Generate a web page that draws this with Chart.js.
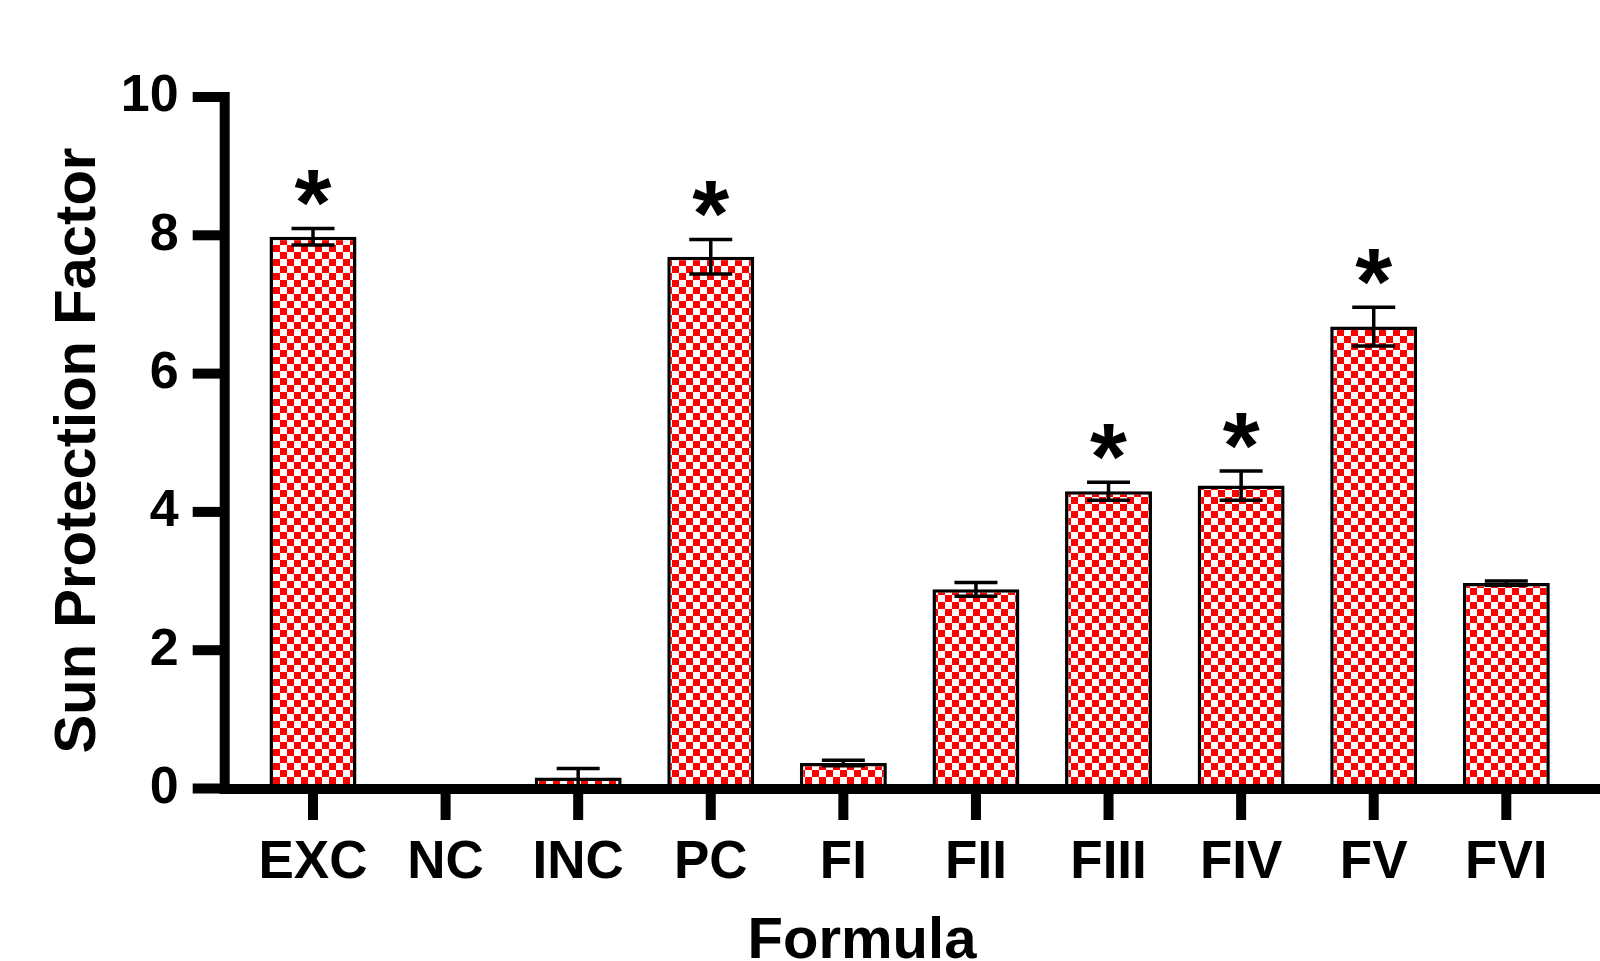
<!DOCTYPE html>
<html>
<head>
<meta charset="utf-8">
<script src="https://cdn.jsdelivr.net/npm/chart.js@4.4.1/dist/chart.umd.min.js"></script>
<style>
    html, body { margin: 0; padding: 0; background: #ffffff; }
    #wrap { width: 1600px; height: 961px; }
</style>
</head>
<body>
<div id="wrap"><canvas id="spf-chart"></canvas></div>
<script>
const labels = ["EXC", "NC", "INC", "PC", "FI", "FII", "FIII", "FIV", "FV", "FVI"];
const spfMean = [7.98, 0, 0.16, 7.69, 0.37, 2.88, 4.3, 4.38, 6.68, 2.97];
const spfSem = [0.12, 0, 0.13, 0.25, 0.04, 0.1, 0.13, 0.21, 0.28, 0.03];
const stars = ["*", "", "", "*", "", "", "*", "*", "*", ""];
const yTicks = [0, 2, 4, 6, 8, 10];
const xTitle = "Formula";
const yTitle = "Sun Protection Factor";

const fontFamily = "'Liberation Sans', Arial, sans-serif";
const ctx = document.getElementById("spf-chart").getContext("2d");

// red / white checkerboard fill like the original figure
function checker() {
    const c = document.createElement("canvas");
    c.width = 14;
    c.height = 14;
    const g = c.getContext("2d");
    g.fillStyle = "#ffffff";
    g.fillRect(0, 0, 14, 14);
    g.fillStyle = "#ff0000";
    g.fillRect(0, 0, 7, 7);
    g.fillRect(7, 7, 7, 7);
    return ctx.createPattern(c, "repeat");
}

const errorBars = {
    id: "errorBars",
    afterDatasetsDraw(chart) {
        const c = chart.ctx;
        const y = chart.scales.y;
        const meta = chart.getDatasetMeta(0);
        c.save();
        c.strokeStyle = "#000";
        c.lineWidth = 3.5;
        meta.data.forEach(function (bar, i) {
            if (!spfSem[i]) return;
            const top = y.getPixelForValue(spfMean[i] + spfSem[i]);
            const bot = y.getPixelForValue(Math.max(spfMean[i] - spfSem[i], 0));
            c.beginPath();
            c.moveTo(bar.x, top);
            c.lineTo(bar.x, bot);
            c.moveTo(bar.x - 21.5, top);
            c.lineTo(bar.x + 21.5, top);
            c.moveTo(bar.x - 21.5, bot);
            c.lineTo(bar.x + 21.5, bot);
            c.stroke();
        });
        c.fillStyle = "#000";
        c.font = "bold 95px " + fontFamily;
        c.textAlign = "center";
        c.textBaseline = "alphabetic";
        meta.data.forEach(function (bar, i) {
            if (!stars[i]) return;
            const top = y.getPixelForValue(spfMean[i] + spfSem[i]);
            c.fillText(stars[i], bar.x, top + 7);
        });
        c.restore();
    },
};

// GraphPad style axes: thick lines, y axis set off from the first bar
const axisLines = {
    id: "axisLines",
    afterDraw(chart) {
        const c = chart.ctx;
        const x = chart.scales.x;
        const y = chart.scales.y;
        const y0 = y.getPixelForValue(0) + 0.5;
        const yTop = y.getPixelForValue(10);
        const axisX = chart.chartArea.left - 22;
        c.save();
        c.fillStyle = "#000";
        c.fillRect(axisX - 5, yTop - 5, 10, y0 + 5 - (yTop - 5));
        c.fillRect(axisX - 5, y0 - 5, chart.width - (axisX - 5), 10);
        yTicks.forEach(function (v) {
            const py = y.getPixelForValue(v);
            c.fillRect(axisX - 32, py - 5, 32, 10);
        });
        labels.forEach(function (l, i) {
            const px = x.getPixelForValue(i);
            c.fillRect(px - 5, y0, 10, 31);
        });

        // axis titles
        c.font = "bold 58px " + fontFamily;
        c.textAlign = "center";
        c.textBaseline = "alphabetic";
        c.fillText(xTitle, 862, 958);
        c.translate(79, 450.5);
        c.rotate(-Math.PI / 2);
        c.textBaseline = "middle";
        c.fillText(yTitle, 0, 0);
        c.restore();
    },
};

new Chart(ctx, {
    type: "bar",
    data: {
        labels: labels,
        datasets: [
            {
                data: spfMean,
                backgroundColor: checker(),
                borderColor: "#000",
                borderWidth: 3.5,
                barPercentage: 0.656,
                categoryPercentage: 1,
            },
        ],
    },
    options: {
        responsive: true,
        maintainAspectRatio: false,
        animation: false,
        layout: {
            padding: { top: 97, right: 27.4, bottom: 0, left: 0 },
        },
        plugins: {
            legend: { display: false },
            tooltip: { enabled: false },
        },
        scales: {
            x: {
                offset: true,
                grid: { display: false },
                border: { display: false },
                ticks: {
                    color: "#000",
                    autoSkip: false,
                    maxRotation: 0,
                    padding: 35,
                    font: { family: fontFamily, size: 53, weight: "bold" },
                },
                afterFit(s) {
                    s.height = 172.5;
                },
            },
            y: {
                min: 0,
                max: 10,
                afterBuildTicks(s) {
                    s.ticks = yTicks.map(function (v) { return { value: v }; });
                },
                grid: { display: false },
                border: { display: false },
                ticks: {
                    color: "#000",
                    padding: 60,
                    font: { family: fontFamily, size: 52, weight: "bold" },
                },
                afterFit(s) {
                    s.width = 246.7;
                },
            },
        },
    },
    plugins: [errorBars, axisLines],
});
</script>
</body>
</html>
